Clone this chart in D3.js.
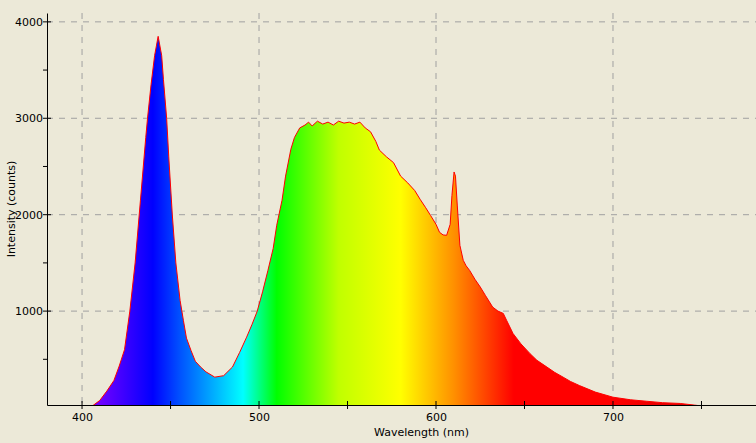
<!DOCTYPE html><html><head><meta charset="utf-8">
<script src="https://cdn.jsdelivr.net/npm/d3@7"></script>
<style>body{margin:0;background:#ECE9D8}</style></head><body>
<svg id="c" width="756" height="443"></svg>
<script>
const wavelengths=[400,405,410,414,418,421,424,427,430,433,436,437,439,441,442,443,444,445,446,447.8,449,451,453,455.4,457.3,459,461.6,464,467,470,475,480,485,489,493,496,499,502,505,508,510,513,515,518,520,523,526,528,530,533,536,539,542,545,548,551,554,557,560,563,566,568,572,576,580,584,588,591,594,597,600,602,604,606,608,609,610.2,611,612,613.5,615.4,617,619,622,625,628,632,635,638,640,643.5,648,653,657,662.7,667,671.8,676,681,690,700,710,719,728,738,746,755,760];
const counts=[0,5,73,170,280,430,600,1000,1500,2150,2800,3000,3350,3650,3750,3850,3750,3650,3400,3000,2600,2000,1500,1111,900,720,590,480,420,370,315,330,420,570,730,860,1000,1200,1420,1650,1890,2150,2400,2680,2800,2900,2930,2960,2920,2970,2940,2960,2930,2970,2950,2960,2940,2960,2900,2860,2760,2670,2600,2540,2400,2330,2250,2160,2077,1990,1900,1817,1790,1786,1900,2200,2443,2400,2100,1682,1526,1470,1422,1330,1250,1160,1042,1000,976,900,768,660,561,490,419,365,315,270,228,160,107,80,65,50,42,25,5,0];
const xTicks=[400,500,600,700];
const yTicks=[1000,2000,3000,4000];
const gradStops=[[380,"#6000ff"],[410,"#7000ff"],[440,"#0000ff"],[455,"#0050ff"],[491,"#00ffff"],[510,"#00ff00"],[545,"#c0ff00"],[580,"#ffff00"],[610,"#ff9000"],[644,"#ff0000"],[700,"#ff0000"],[780,"#c00000"]];

const svg=d3.select("#c");
const L=47,R=756,T=13,B=405;
const x=d3.scaleLinear().domain([380.2,780.8]).range([L,R]);
const y=d3.scaleLinear().domain([26,4092]).range([B,T]);
const font="Tahoma, 'DejaVu Sans', sans-serif";

const g=svg.append("g");
xTicks.forEach(t=>g.append("line").attr("x1",x(t)).attr("x2",x(t)).attr("y1",T).attr("y2",B).attr("stroke","#a0a0a0").attr("stroke-dasharray","6,6"));
yTicks.forEach(t=>g.append("line").attr("x1",L).attr("x2",R).attr("y1",y(t)).attr("y2",y(t)).attr("stroke","#a0a0a0").attr("stroke-dasharray","6,6"));

const defs=svg.append("defs");
const lg=defs.append("linearGradient").attr("id","sp").attr("gradientUnits","userSpaceOnUse").attr("x1",x(380.2)).attr("x2",x(780.8)).attr("y1",0).attr("y2",0);
gradStops.forEach(s=>lg.append("stop").attr("offset",(x(s[0])-L)/(R-L)).attr("stop-color",s[1]));
defs.append("clipPath").attr("id","cl").append("rect").attr("x",L).attr("y",T).attr("width",R-L).attr("height",B-T);

const data=wavelengths.map((w,i)=>[w,counts[i]]);
const area=d3.area().x(d=>x(d[0])).y0(B).y1(d=>y(d[1]));
const line=d3.line().x(d=>x(d[0])).y(d=>y(d[1]));
const pg=svg.append("g").attr("clip-path","url(#cl)");
pg.append("path").datum(data).attr("d",area).attr("fill","url(#sp)");
pg.append("path").datum(data).attr("d",line).attr("fill","none").attr("stroke","#ff0000").attr("stroke-width",1);

const xa=svg.append("g").attr("transform",`translate(0,${B})`).call(d3.axisBottom(x).tickValues(d3.range(400,751,50)).tickSize(0).tickFormat(d=>xTicks.includes(d)?d:""));
xa.select(".domain").attr("stroke","#000");
d3.range(400,751,50).forEach(t=>svg.append("line").attr("x1",x(t)).attr("x2",x(t)).attr("y1",B-4).attr("y2",B+4).attr("stroke","#000"));
xa.selectAll("text").attr("dy","0").attr("y",16).attr("font-family",font).attr("font-size",11).attr("fill","#000");
const ya=svg.append("g").attr("transform",`translate(${L},0)`).call(d3.axisLeft(y).tickValues(d3.range(500,4001,500)).tickSize(0).tickFormat(d=>yTicks.includes(d)?d:""));
ya.select(".domain").attr("stroke","#000");
d3.range(500,4001,500).forEach(t=>svg.append("line").attr("x1",L-4).attr("x2",L+(yTicks.includes(t)?4:0)).attr("y1",y(t)).attr("y2",y(t)).attr("stroke","#000"));
ya.selectAll("text").attr("x",-4).attr("font-family",font).attr("font-size",11).attr("fill","#000");
svg.append("text").attr("x",(L+R)/2+20).attr("y",436).attr("text-anchor","middle").attr("font-family",font).attr("font-size",11).text("Wavelength (nm)");
svg.append("text").attr("transform","translate(15,209) rotate(-90)").attr("text-anchor","middle").attr("font-family",font).attr("font-size",11).text("Intensity (counts)");
</script></body></html>
